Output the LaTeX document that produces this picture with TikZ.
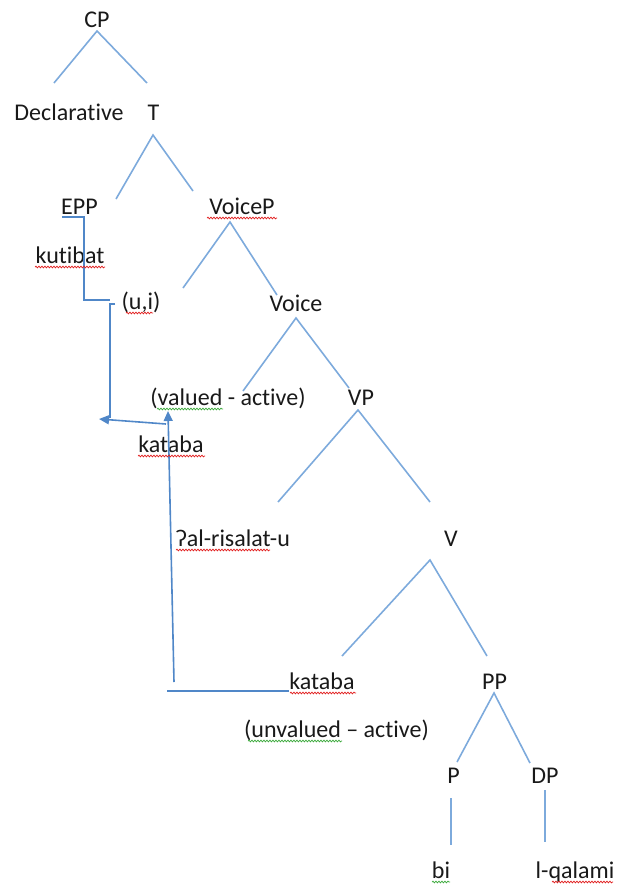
\documentclass[tikz,border=0pt]{standalone}
\usepackage{fontspec}
\setmainfont{Carlito}[Ligatures=NoCommon]
\usetikzlibrary{arrows.meta,decorations.pathmorphing}
\definecolor{treeblue}{RGB}{125,170,220}
\definecolor{arrblue}{RGB}{80,135,200}
\definecolor{spellred}{RGB}{225,30,30}
\definecolor{spellgreen}{RGB}{60,170,60}
\begin{document}
\begin{tikzpicture}[x=1pt,y=-1pt,
  lbl/.style={anchor=base,inner sep=0pt,font=\fontsize{24}{27}\selectfont,text=black!90},
  branch/.style={draw=treeblue,line width=1.6pt},
  mover/.style={draw=arrblue,line width=1.6pt},
  tipped/.style={mover,-{Triangle[length=10pt,width=9pt]}},
  redwave/.style={draw=spellred,line width=0.7pt,decorate,decoration={snake,amplitude=0.9pt,segment length=3pt}},
  greenwave/.style={draw=spellgreen,line width=0.7pt,decorate,decoration={snake,amplitude=0.9pt,segment length=3pt}}]
\useasboundingbox (0,0) rectangle (617,884);
% labels
\node[lbl] (CP) at (97,27) {CP};
\node[lbl] (Decl) at (69,120) {Declarative};
\node[lbl] (T) at (153.5,120) {T};
\node[lbl] (EPP) at (79.5,214) {EPP};
\node[lbl] (VoiceP) at (242,214) {VoiceP};
\node[lbl] (kutibat) at (70,263) {kutibat};
\node[lbl] (ui) at (141,309) {(u,i)};
\node[lbl] (Voice) at (296,311) {Voice};
\node[lbl] (valued) at (228,405) {(valued - active)};
\node[lbl] (VP) at (361,405) {VP};
\node[lbl] (kataba1) at (171,452) {kataba};
\node[lbl] (alris) at (233,546) {ʔal-risalat-u};
\node[lbl] (V) at (451,546) {V};
\node[lbl] (kataba2) at (322,689) {kataba};
\node[lbl] (PP) at (494.5,689) {PP};
\node[lbl] (unvalued) at (336.5,737) {(unvalued – active)};
\node[lbl] (P) at (453.5,783) {P};
\node[lbl] (DP) at (545,783) {DP};
\node[lbl] (bi) at (441,878) {bi};
\node[lbl] (lqalami) at (575,878) {l-qalami};
% branch end points
\coordinate (cpA) at (97,31);   \coordinate (cpL) at (54,83);   \coordinate (cpR) at (147,83);
\coordinate (tA) at (153,135);  \coordinate (tL) at (116,199);  \coordinate (tR) at (193,191);
\coordinate (vpA) at (230,222); \coordinate (vpL) at (183,288); \coordinate (vpR) at (277,295);
\coordinate (voA) at (296,318); \coordinate (voL) at (243,391); \coordinate (voR) at (349,388);
\coordinate (VPA) at (358,410); \coordinate (VPL) at (278,502); \coordinate (VPR) at (430,502);
\coordinate (vA) at (430,560);  \coordinate (vL) at (342,656);  \coordinate (vR) at (487,656);
\coordinate (ppA) at (494,693); \coordinate (ppL) at (457,762); \coordinate (ppR) at (530,763);
\coordinate (pT) at (451,798);  \coordinate (pB) at (451,845);
\coordinate (dpT) at (545,790); \coordinate (dpB) at (545,842);
\path[branch] (cpL) -- (cpA) -- (cpR);
\path[branch] (tL) -- (tA) -- (tR);
\path[branch] (vpL) -- (vpA) -- (vpR);
\path[branch] (voL) -- (voA) -- (voR);
\path[branch] (VPL) -- (VPA) -- (VPR);
\path[branch] (vL) -- (vA) -- (vR);
\path[branch] (ppL) -- (ppA) -- (ppR);
\path[branch] (pT) -- (pB);
\path[branch] (dpT) -- (dpB);
% movement lines
\coordinate (e1) at (62,217); \coordinate (e2) at (84,217); \coordinate (e3) at (84,300); \coordinate (e4) at (110,300);
\path[mover] (e1) -- (e2) -- (e3) -- (e4);
\coordinate (u1) at (115,304); \coordinate (u2) at (110,304); \coordinate (u3) at (110,418);
\path[mover] (u1) -- (u2) -- (u3);
\coordinate (a1) at (166,424); \coordinate (a2) at (99,419);
\path[tipped] (a1) -- (a2);
\coordinate (b1) at (174,682); \coordinate (b2) at (168,411);
\path[tipped] (b1) -- (b2);
\coordinate (h1) at (167,691);
\path[mover] (kataba2.base west) ++(0,2) coordinate (h0) (h0) -- (h1);
% spell-check underlines
\path[redwave] (207,218) -- (277,218);
\path[redwave] (35,267) -- (105,267);
\path[redwave] (126,313) -- (153,313);
\path[greenwave] (157,409) -- (223,409);
\path[redwave] (138,456) -- (205,456);
\path[redwave] (176,550) -- (270,550);
\path[redwave] (290,693) -- (356,693);
\path[greenwave] (248,741) -- (342,741);
\path[greenwave] (432,882) -- (450,882);
\path[redwave] (552,882) -- (613,882);
\end{tikzpicture}
\end{document}
